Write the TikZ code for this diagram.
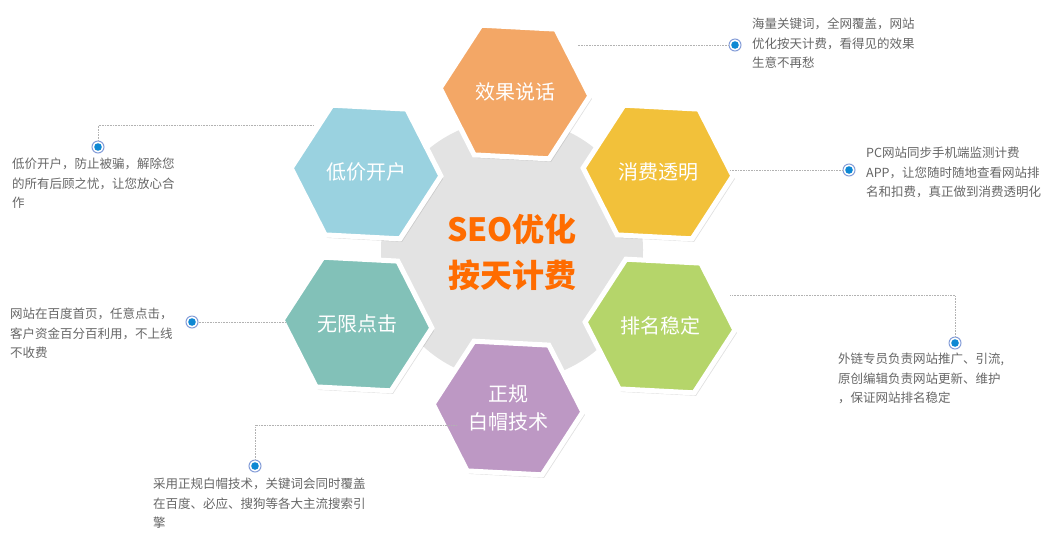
\documentclass[tikz,border=0pt]{standalone}
\usepackage{fontspec}
\setmainfont{Noto Sans CJK SC}
\usetikzlibrary{shapes.geometric,shadows}
\begin{document}
\begin{tikzpicture}[x=1pt,y=-1pt,
 hex/.style={regular polygon,regular polygon sides=6,minimum size=150pt,inner sep=0,draw=white,line width=5pt,shape border rotate=-3,
   drop shadow={shadow xshift=2pt,shadow yshift=-3pt,opacity=0.25},text=white,font=\fontsize{20}{28}\selectfont,align=center},
 lbl/.style={anchor=north west,text=black!60,font=\fontsize{12.5}{19.5}\selectfont,align=left,inner sep=0},
 ln/.style={draw=black!30,densely dotted,line width=0.6pt},
 dot/.style={circle,fill=white,draw=cyan!40!blue!50,line width=1pt,minimum size=12pt,inner sep=0,
   path picture={\fill[cyan!70!blue] (path picture bounding box.center) circle (3.8pt);}}]
\useasboundingbox (0,0) rectangle (1064,550);
\fill[black!11] (512,250) circle (131);
\node[text=orange!85!red,font=\fontsize{32}{46}\selectfont\bfseries,align=center] (c) at (512,252) {SEO优化\\按天计费};
\node[hex,fill={rgb,255:red,243;green,167;blue,102}] (h1) at (515,92) {效果说话};
\node[hex,fill={rgb,255:red,242;green,193;blue,58}] (h2) at (658,172) {消费透明};
\node[hex,fill={rgb,255:red,154;green,210;blue,224}] (h3) at (366,172) {低价开户};
\node[hex,fill={rgb,255:red,181;green,213;blue,106}] (h4) at (660,326) {排名稳定};
\node[hex,fill={rgb,255:red,130;green,193;blue,184}] (h5) at (357,324) {无限点击};
\node[hex,fill={rgb,255:red,189;green,152;blue,196}] (h6) at (508,408) {正规\\白帽技术};
\node[dot] (d1) at (735,45) {};
\node[dot] (d2) at (849,170) {};
\node[dot] (d3) at (98,147) {};
\node[dot] (d4) at (955,343) {};
\node[dot] (d5) at (192,322) {};
\node[dot] (d6) at (255,466) {};
\coordinate (k3) at (98,125);
\coordinate (k4) at (955,295);
\coordinate (k6) at (255,425);
\path[ln] (d1) -- (578,45);
\path[ln] (d2) -- (730,170);
\path[ln] (d3) -- (k3) -- (313,125);
\path[ln] (d4) -- (k4) -- (730,295);
\path[ln] (d5) -- (285,322);
\path[ln] (d6) -- (k6) -- (456,425);
\node[lbl] (t1) at (752,18) {海量关键词，全网覆盖，网站\\优化按天计费，看得见的效果\\生意不再愁};
\node[lbl] (t2) at (866,147) {PC网站同步手机端监测计费\\APP，让您随时随地查看网站排\\名和扣费，真正做到消费透明化};
\node[lbl] (t3) at (12,158) {低价开户，防止被骗，解除您\\的所有后顾之忧，让您放心合\\作};
\node[lbl] (t4) at (10,308) {网站在百度首页，任意点击，\\客户资金百分百利用，不上线\\不收费};
\node[lbl] (t5) at (838,353) {外链专员负责网站推广、引流,\\原创编辑负责网站更新、维护\\，保证网站排名稳定};
\node[lbl] (t6) at (153,478) {采用正规白帽技术，关键词会同时覆盖\\在百度、必应、搜狗等各大主流搜索引\\擎};
\end{tikzpicture}
\end{document}
